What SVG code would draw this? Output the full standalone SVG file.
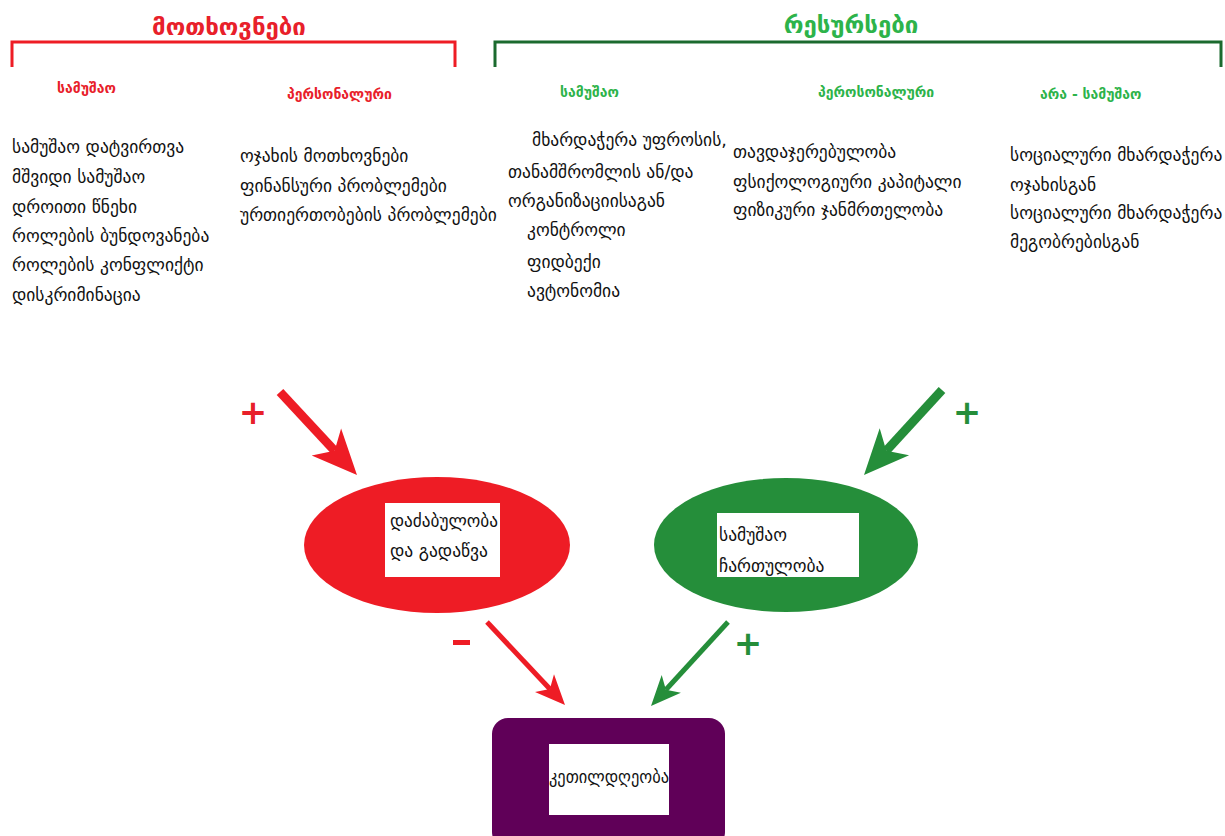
<svg xmlns="http://www.w3.org/2000/svg" width="1225" height="836" viewBox="0 0 1225 836">
<style>
text{font-family:"DejaVu Sans","Noto Sans",sans-serif;}
.title{font-size:24px;font-weight:bold;text-anchor:middle;}
.sub{font-size:14px;font-weight:bold;}
.body{font-size:17.5px;fill:#111;}
.red{fill:#e8202a;}
.grn{fill:#2db34a;}
.sign{font-size:34px;font-weight:bold;text-anchor:middle;}
</style>
<rect width="1225" height="836" fill="#fff"/>
<g id="header-demands">
<path d="M12,67 V42 H455 V67" fill="none" stroke="#ee1c25" stroke-width="3"/>
<text class="title red" x="229" y="35">მოთხოვნები</text>
<text class="sub red" x="57" y="93">სამუშაო</text>
<text class="sub red" x="287" y="99">პერსონალური</text>
</g>
<g id="header-resources">
<path d="M495,67 V42 H1221 V67" fill="none" stroke="#1b6a2e" stroke-width="3"/>
<text class="title grn" x="851" y="33">რესურსები</text>
<text class="sub grn" x="560" y="97">სამუშაო</text>
<text class="sub grn" x="818" y="97">პეროსონალური</text>
<text class="sub grn" x="1040" y="99">არა - სამუშაო</text>
</g>
<g id="col-demands-work">
<text class="body" x="12" y="153">სამუშაო დატვირთვა</text>
<text class="body" x="12" y="183">მშვიდი სამუშაო</text>
<text class="body" x="12" y="213">დროითი წნეხი</text>
<text class="body" x="12" y="242">როლების ბუნდოვანება</text>
<text class="body" x="12" y="271">როლების კონფლიქტი</text>
<text class="body" x="12" y="301">დისკრიმინაცია</text>
</g>
<g id="col-demands-personal">
<text class="body" x="240" y="162">ოჯახის მოთხოვნები</text>
<text class="body" x="240" y="192">ფინანსური პრობლემები</text>
<text class="body" x="240" y="221">ურთიერთობების პრობლემები</text>
</g>
<g id="col-resources-work">
<text class="body" x="532" y="146">მხარდაჭერა უფროსის,</text>
<text class="body" x="508" y="178">თანამშრომლის ან/და</text>
<text class="body" x="508" y="207">ორგანიზაციისაგან</text>
<text class="body" x="527" y="236">კონტროლი</text>
<text class="body" x="527" y="268">ფიდბექი</text>
<text class="body" x="527" y="297">ავტონომია</text>
</g>
<g id="col-resources-personal">
<text class="body" x="733" y="158">თავდაჯერებულობა</text>
<text class="body" x="733" y="188">ფსიქოლოგიური კაპიტალი</text>
<text class="body" x="733" y="216">ფიზიკური ჯანმრთელობა</text>
</g>
<g id="col-resources-nonwork">
<text class="body" x="1010" y="161">სოციალური მხარდაჭერა</text>
<text class="body" x="1010" y="191">ოჯახისგან</text>
<text class="body" x="1010" y="219">სოციალური მხარდაჭერა</text>
<text class="body" x="1010" y="248">მეგობრებისგან</text>
</g>
<g id="connectors">
<line x1="280" y1="392" x2="334.6" y2="450.8" stroke="#ee1c25" stroke-width="9"/>
<polygon points="357,475 311.7,455.6 334.6,450.8 341.1,428.4" fill="#ee1c25"/>
<line x1="942" y1="390" x2="886.3" y2="450.7" stroke="#258e3a" stroke-width="9"/>
<polygon points="864,475 879.7,428.3 886.3,450.7 909.1,455.3" fill="#258e3a"/>
<line x1="487" y1="622" x2="549.9" y2="689" stroke="#ee1c25" stroke-width="5"/>
<polygon points="565,705 535,692 549.9,689 554,674.2" fill="#ee1c25"/>
<line x1="728" y1="622" x2="665.9" y2="689.8" stroke="#258e3a" stroke-width="5"/>
<polygon points="651,706 661.7,675.1 665.9,689.8 680.9,692.7" fill="#258e3a"/>
<text class="sign red" x="253" y="424">+</text>
<text class="sign" x="967" y="424" fill="#258e3a">+</text>
<rect x="453" y="640" width="17" height="5" fill="#ee1c25"/>
<text class="sign" x="748" y="655" fill="#258e3a">+</text>
</g>
<g id="node-strain">
<ellipse cx="437" cy="545" rx="133" ry="68" fill="#ee1c25"/>
<rect x="385" y="503" width="115" height="74" fill="#fff"/>
<text class="body" x="390" y="527" textLength="108" lengthAdjust="spacingAndGlyphs">დაძაბულობა</text>
<text class="body" x="390" y="557">და გადაწვა</text>
</g>
<g id="node-engagement">
<ellipse cx="786" cy="545" rx="132" ry="67" fill="#258e3a"/>
<rect x="717" y="513" width="142" height="64" fill="#fff"/>
<text class="body" x="719" y="541">სამუშაო</text>
<text class="body" x="719" y="572">ჩართულობა</text>
</g>
<g id="node-wellbeing">
<rect x="492" y="718" width="233" height="130" rx="16" fill="#600058"/>
<rect x="549" y="744" width="120" height="71" fill="#fff"/>
<text class="body" x="549" y="783" textLength="120" lengthAdjust="spacingAndGlyphs">კეთილდღეობა</text>
</g>
</svg>
